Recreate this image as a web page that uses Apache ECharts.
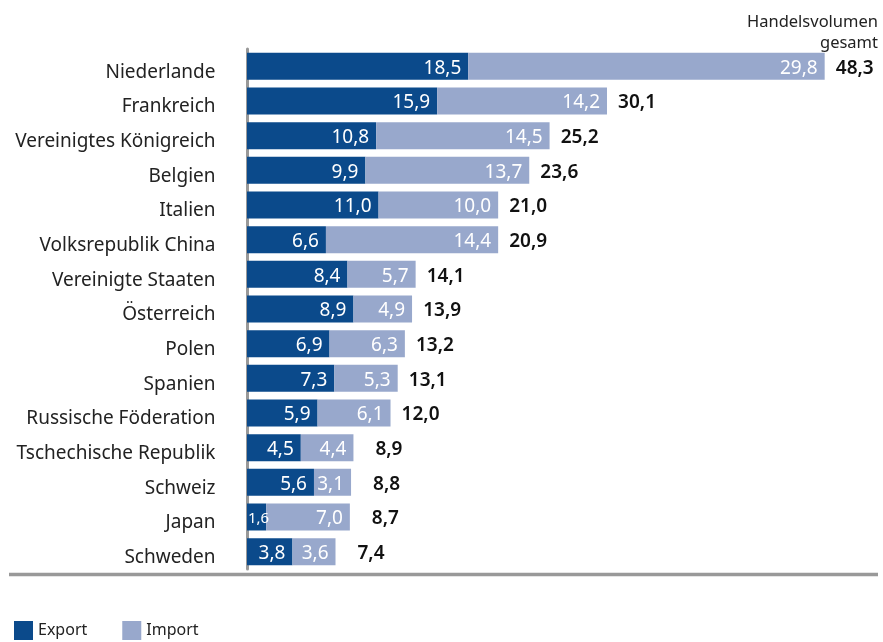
<!DOCTYPE html>
<html>
<head>
<meta charset="utf-8">
<script src="https://cdn.jsdelivr.net/npm/echarts@6/dist/echarts.min.js"></script>
<style>
  html, body { margin: 0; padding: 0; background: #fff; }
  #chart { width: 883px; height: 642px; }
</style>
</head>
<body>
<div id="chart"></div>
<script>
// Handelspartner: Export / Import / Handelsvolumen gesamt
var laender = ['Niederlande', 'Frankreich', 'Vereinigtes Königreich', 'Belgien', 'Italien',
    'Volksrepublik China', 'Vereinigte Staaten', 'Österreich', 'Polen', 'Spanien',
    'Russische Föderation', 'Tschechische Republik', 'Schweiz', 'Japan', 'Schweden'];
var exportWerte = [18.5, 15.9, 10.8, 9.9, 11.0, 6.6, 8.4, 8.9, 6.9, 7.3, 5.9, 4.5, 5.6, 1.6, 3.8];
var importWerte = [29.8, 14.2, 14.5, 13.7, 10.0, 14.4, 5.7, 4.9, 6.3, 5.3, 6.1, 4.4, 3.1, 7.0, 3.6];
var gesamtWerte = [48.3, 30.1, 25.2, 23.6, 21.0, 20.9, 14.1, 13.9, 13.2, 13.1, 12.0, 8.9, 8.8, 8.7, 7.4];

var FONT = 'Noto Sans';
var farbeExport = '#0b4a8b';
var farbeImport = '#98a8cc';

function fmt(v) {
    return v.toFixed(1).replace('.', ',');
}

// sehr kleine Segmente bekommen eine kleinere Schrift
var exportDaten = exportWerte.map(function(v) {
    if (v < 2) {
        return { value: v, label: { fontSize: 15, position: 'insideLeft', distance: 1 } };
    }
    return v;
});

var chart = echarts.init(document.getElementById('chart'));
var option = {
    animation: false,
    textStyle: { fontFamily: FONT },
    legend: {
        left: 9,
        top: 616,
        itemWidth: 19,
        itemHeight: 19,
        itemGap: 35,
        icon: 'rect',
        textStyle: { fontFamily: FONT, fontSize: 16, color: '#222', padding: [4, 0, 0, 0] },
        data: ['Export', 'Import']
    },
    grid: { left: 247, right: 38, top: 49, bottom: 73, containLabel: false },
    xAxis: {
        type: 'value',
        min: 0,
        max: 50,
        show: false
    },
    yAxis: {
        type: 'category',
        inverse: true,
        data: laender,
        offset: 9.5,
        axisLine: { show: true, lineStyle: { color: '#999', width: 3 } },
        axisTick: { show: false },
        axisLabel: {
            margin: 22,
            formatter: function(v) { return '{l|' + v + '}'; },
            rich: {
                l: { fontFamily: FONT, fontSize: 19, color: '#222', padding: [12, 0, 0, 0] }
            }
        }
    },
    graphic: [{
        type: 'line',
        shape: { x1: 9, y1: 574.5, x2: 878, y2: 574.5 },
        style: { stroke: '#999', lineWidth: 3.5 }
    }, {
        type: 'text',
        x: 878,
        y: 12,
        style: {
            text: 'Handelsvolumen\ngesamt',
            align: 'right',
            fontFamily: FONT,
            fontSize: 16.5,
            lineHeight: 21,
            fill: '#222'
        }
    }],
    series: [{
        name: 'Export',
        type: 'bar',
        stack: 'gesamt',
        barWidth: 27,
        itemStyle: { color: farbeExport },
        label: {
            show: true,
            position: 'insideRight',
            distance: 7,
            offset: [0, 2],
            color: '#fff',
            fontFamily: FONT,
            fontSize: 19,
            formatter: function(p) { return fmt(p.value); }
        },
        data: exportDaten
    }, {
        name: 'Import',
        type: 'bar',
        stack: 'gesamt',
        barWidth: 27,
        itemStyle: { color: farbeImport },
        label: {
            show: true,
            position: 'insideRight',
            distance: 7,
            offset: [0, 2],
            color: '#fff',
            fontFamily: FONT,
            fontSize: 19,
            formatter: function(p) { return fmt(p.value); }
        },
        data: importWerte
    }, {
        // Summenbeschriftung rechts neben dem Balken
        name: 'Summe',
        type: 'bar',
        stack: 'gesamt',
        barWidth: 27,
        itemStyle: { color: 'transparent' },
        silent: true,
        label: {
            show: true,
            position: 'insideLeft',
            distance: 0,
            align: 'right',
            offset: [49, 2],
            color: '#111',
            fontFamily: FONT,
            fontSize: 19,
            fontWeight: 600,
            formatter: function(p) { return fmt(gesamtWerte[p.dataIndex]); }
        },
        data: gesamtWerte.map(function() { return 0; })
    }]
};
chart.setOption(option);
</script>
</body>
</html>
